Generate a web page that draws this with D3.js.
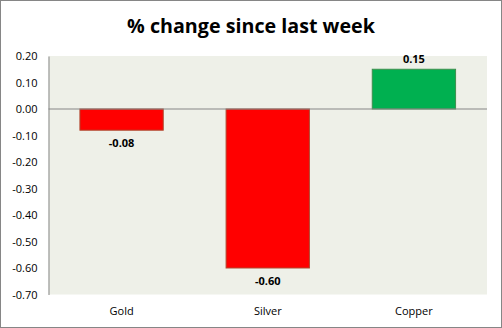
<!DOCTYPE html>
<html>
<head>
<meta charset="utf-8">
<script src="https://cdn.jsdelivr.net/npm/d3@7"></script>
<style>
  html, body { margin: 0; padding: 0; background: #fff; }
  svg { display: block; }
  text { font-family: "Open Sans", "Noto Sans", sans-serif; fill: #000; }
</style>
</head>
<body>
<svg id="chart" width="502" height="328"></svg>
<script>
// Weekly change per metal
const categories = ["Gold", "Silver", "Copper"];
const changes = [-0.08, -0.60, 0.15];
const yTicks = [0.20, 0.10, 0.00, -0.10, -0.20, -0.30, -0.40, -0.50, -0.60, -0.70];
const titleText = "% change since last week";

const W = 502, H = 328;
const plot = { left: 48.5, right: 487, top: 56, bottom: 294.5 };

const svg = d3.select("#chart");

// chart frame
svg.append("rect")
  .attr("x", 0.5).attr("y", 0.5)
  .attr("width", W - 1).attr("height", H - 1)
  .attr("fill", "#fff").attr("stroke", "#868686");

const x = d3.scaleBand()
  .domain(categories)
  .range([plot.left, plot.right])
  .paddingInner(0.43)
  .paddingOuter(0.215);

const y = d3.scaleLinear()
  .domain([-0.70, 0.20])
  .range([plot.bottom, plot.top]);

// plot area background
svg.append("rect")
  .attr("x", plot.left).attr("y", plot.top)
  .attr("width", plot.right - plot.left)
  .attr("height", plot.bottom - plot.top)
  .attr("fill", "#EEF0E8");

// title
svg.append("text")
  .attr("x", 251).attr("y", 33)
  .attr("text-anchor", "middle")
  .style("font-size", "19.7px")
  .style("font-weight", "bold")
  .text(titleText);

// bars
const colorFor = v => v < 0 ? "#FF0000" : "#00B050";
const strokeFor = v => v < 0 ? "#B0482E" : "#3E8E4E";

svg.selectAll("rect.bar")
  .data(changes)
  .join("rect")
  .attr("class", "bar")
  .attr("x", (d, i) => x(categories[i]))
  .attr("width", x.bandwidth())
  .attr("y", d => y(Math.max(0, d)))
  .attr("height", d => Math.abs(y(d) - y(0)))
  .attr("fill", colorFor)
  .attr("stroke", strokeFor)
  .attr("stroke-width", 1);

// value labels
svg.selectAll("text.val")
  .data(changes)
  .join("text")
  .attr("class", "val")
  .attr("x", (d, i) => x(categories[i]) + x.bandwidth() / 2)
  .attr("y", d => d < 0 ? y(d) + 17 : y(d) - 6)
  .attr("text-anchor", "middle")
  .style("font-size", "11px")
  .style("font-weight", "bold")
  .text(d => d.toFixed(2));

// y axis
const yAxis = d3.axisLeft(y)
  .tickValues(yTicks)
  .tickSize(0)
  .tickPadding(11)
  .tickFormat(d => d.toFixed(2));

const gy = svg.append("g")
  .attr("transform", `translate(${plot.left},0)`)
  .call(yAxis);
gy.select(".domain").attr("stroke", "#868686");
gy.selectAll("text")
  .style("font-size", "11px")
  .style("font-family", "\"Open Sans\", sans-serif")
  .attr("fill", "#000");

// zero baseline
svg.append("line")
  .attr("x1", plot.left).attr("x2", plot.right)
  .attr("y1", y(0)).attr("y2", y(0))
  .attr("stroke", "#868686");

// category labels
const xAxis = d3.axisBottom(x).tickSize(0).tickPadding(13);
const gx = svg.append("g")
  .attr("transform", `translate(0,${plot.bottom})`)
  .call(xAxis);
gx.select(".domain").remove();
gx.selectAll("text")
  .style("font-size", "11px")
  .style("font-family", "\"Open Sans\", sans-serif")
  .attr("fill", "#000");
</script>
</body>
</html>
